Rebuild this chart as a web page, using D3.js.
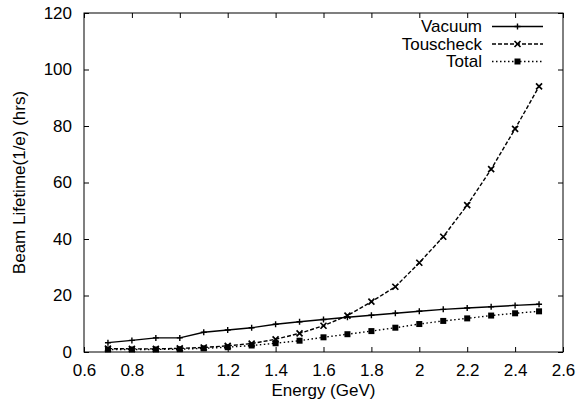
<!DOCTYPE html>
<html>
<head>
<meta charset="utf-8">
<script src="https://cdn.jsdelivr.net/npm/d3@7"></script>
<style>
  body { margin: 0; background: #fff; }
  text { font-family: "Liberation Sans", Arial, sans-serif; }
</style>
</head>
<body>
<div id="chart"></div>
<script>
var energy = [0.7, 0.8, 0.9, 1.0, 1.1, 1.2, 1.3, 1.4, 1.5, 1.6, 1.7, 1.8, 1.9, 2.0, 2.1, 2.2, 2.3, 2.4, 2.5];
var vacuum = [3.3, 4.1, 5.0, 5.0, 7.0, 7.8, 8.6, 9.8, 10.7, 11.5, 12.3, 13.0, 13.7, 14.4, 15.1, 15.6, 16.0, 16.5, 16.9];
var touscheck = [1.2, 1.1, 1.1, 1.3, 1.6, 2.2, 3.0, 4.5, 6.6, 9.3, 12.9, 17.8, 23.1, 31.6, 40.8, 52.0, 64.7, 79.0, 94.0];
var total = [0.9, 0.9, 0.9, 1.0, 1.3, 1.7, 2.3, 3.1, 4.0, 5.2, 6.3, 7.4, 8.6, 9.9, 11.0, 11.9, 12.9, 13.7, 14.4];
var xTicks = [0.6, 0.8, 1, 1.2, 1.4, 1.6, 1.8, 2, 2.2, 2.4, 2.6];
var yTicks = [0, 20, 40, 60, 80, 100, 120];
var seriesNames = ["Vacuum", "Touscheck", "Total"];

var margin = {top: 13, right: 23, bottom: 56, left: 84},
    width = 586 - margin.left - margin.right,
    height = 408 - margin.top - margin.bottom;

var svg = d3.select("#chart")
  .append("svg")
    .attr("width", 586)
    .attr("height", 408)
  .append("g")
    .attr("transform", "translate(" + margin.left + "," + margin.top + ")");

var x = d3.scaleLinear().domain([0.6, 2.6]).range([0, width]);
var y = d3.scaleLinear().domain([0, 120]).range([height, 0]);

// axes, ticks pointing inward on all four sides
var fmt = function(d) { return d3.format("")(+d.toFixed(1)); };
svg.append("g")
  .attr("transform", "translate(0," + height + ")")
  .call(d3.axisBottom(x).tickValues(xTicks).tickSize(-5).tickPadding(12).tickFormat(fmt));
svg.append("g")
  .call(d3.axisTop(x).tickValues(xTicks).tickSize(-5).tickFormat(""));
svg.append("g")
  .call(d3.axisLeft(y).tickValues(yTicks).tickSize(-5).tickPadding(12));
svg.append("g")
  .attr("transform", "translate(" + width + ",0)")
  .call(d3.axisRight(y).tickValues(yTicks).tickSize(-5).tickFormat(""));

svg.selectAll(".domain").remove();
svg.selectAll(".tick line").attr("stroke", "#000");
svg.selectAll(".tick text").attr("font-size", 17).attr("fill", "#000")
  .style("font-family", "Liberation Sans, Arial, sans-serif");

svg.append("rect")
  .attr("width", width).attr("height", height)
  .attr("fill", "none").attr("stroke", "#000").attr("stroke-width", 1);

// axis labels
svg.append("text")
  .attr("text-anchor", "middle")
  .attr("x", width / 2)
  .attr("y", height + 44)
  .attr("font-size", 17)
  .text("Energy (GeV)");

svg.append("text")
  .attr("text-anchor", "middle")
  .attr("transform", "translate(" + (25 - margin.left) + "," + (height / 2) + ")rotate(-90)")
  .attr("font-size", 17)
  .text("Beam Lifetime(1/e) (hrs)");

var series = [
  {name: seriesNames[0], values: vacuum, dash: null, marker: "plus"},
  {name: seriesNames[1], values: touscheck, dash: "4,2", marker: "cross"},
  {name: seriesNames[2], values: total, dash: "1.5,2.5", marker: "square"}
];

function drawMarker(g, type, cx, cy) {
  if (type === "plus") {
    g.append("path").attr("d", "M" + (cx - 3) + "," + cy + "H" + (cx + 3) + "M" + cx + "," + (cy - 3) + "V" + (cy + 3))
      .attr("stroke", "#000").attr("stroke-width", 1.4);
  } else if (type === "cross") {
    g.append("path").attr("d", "M" + (cx - 3) + "," + (cy - 3) + "L" + (cx + 3) + "," + (cy + 3) + "M" + (cx - 3) + "," + (cy + 3) + "L" + (cx + 3) + "," + (cy - 3))
      .attr("stroke", "#000").attr("stroke-width", 1.7);
  } else {
    g.append("rect").attr("x", cx - 3).attr("y", cy - 3).attr("width", 6).attr("height", 6).attr("fill", "#000");
  }
}

var line = d3.line()
  .x(function(d, i) { return x(energy[i]); })
  .y(function(d) { return y(d); });

series.forEach(function(s) {
  svg.append("path")
    .datum(s.values)
    .attr("fill", "none")
    .attr("stroke", "#000")
    .attr("stroke-width", 1.4)
    .attr("stroke-dasharray", s.dash)
    .attr("d", line);
  var g = svg.append("g");
  s.values.forEach(function(v, i) { drawMarker(g, s.marker, x(energy[i]), y(v)); });
});

// legend
var legend = svg.append("g").attr("transform", "translate(" + (482 - margin.left) + ",0)");
series.forEach(function(s, i) {
  var ly = 26.5 - margin.top + i * 17.5;
  legend.append("text")
    .attr("text-anchor", "end")
    .attr("x", 0).attr("y", ly).attr("dy", "0.35em")
    .attr("font-size", 17)
    .text(s.name);
  legend.append("line")
    .attr("x1", 10).attr("x2", 61).attr("y1", ly).attr("y2", ly)
    .attr("stroke", "#000").attr("stroke-width", 1.4)
    .attr("stroke-dasharray", s.dash);
  drawMarker(legend, s.marker, 35.5, ly);
});
</script>
</body>
</html>
